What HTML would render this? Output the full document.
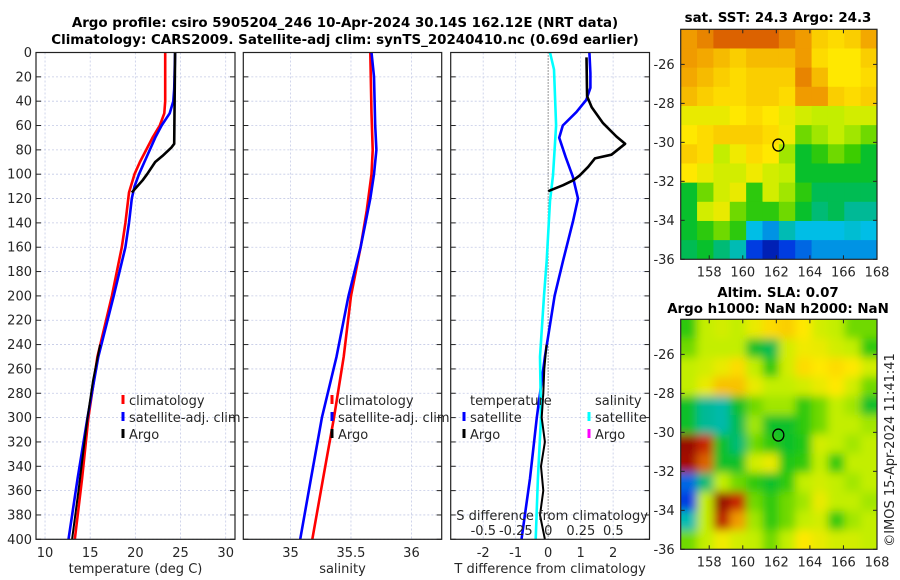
<!DOCTYPE html>
<html><head><meta charset="utf-8">
<style>
html,body{margin:0;padding:0;background:#fff;}
svg{display:block;font-family:"DejaVu Sans","Liberation Sans",sans-serif;}
.tk{font-size:13px;fill:#262626;}
.ttl{font-size:13.4px;font-weight:bold;fill:#000;}
</style></head>
<body>
<svg id="fig" width="900" height="580" viewBox="0 0 900 580">
<defs>
<filter id="blur" x="-10%" y="-10%" width="120%" height="120%"><feGaussianBlur stdDeviation="4.5"/></filter>
<clipPath id="clipSLA"><rect x="680.7" y="319.3" width="196.3" height="230"/></clipPath>
<clipPath id="clipSST"><rect x="680.7" y="29.3" width="196.3" height="230"/></clipPath>
</defs>
<text class="ttl" x="345" y="27" text-anchor="middle">Argo profile: csiro 5905204_246 10-Apr-2024 30.14S 162.12E (NRT data)</text>
<text class="ttl" x="345" y="44" text-anchor="middle">Climatology: CARS2009. Satellite-adj clim: synTS_20240410.nc (0.69d earlier)</text>
<text class="ttl" x="778" y="22" text-anchor="middle">sat. SST: 24.3 Argo: 24.3</text>
<text class="ttl" x="778" y="297" text-anchor="middle">Altim. SLA: 0.07</text>
<text class="ttl" x="778" y="313" text-anchor="middle">Argo h1000: NaN h2000: NaN</text>
<text class="tk" transform="translate(894,450) rotate(-90)" text-anchor="middle">©IMOS 15-Apr-2024 11:41:41</text>
<g id="plots"></g>
</svg>
<script>
// ---------- data ----------
const depthTicks=[0,20,40,60,80,100,120,140,160,180,200,220,240,260,280,300,320,340,360,380,400];
const tempTicks=[10,15,20,25,30];
const salTicks=[35,35.5,36];
const salTickLabels=["35","35.5","36"];
const dTTicks=[-2,-1,0,1,2];
const dSTickLabels=["-0.5","-0.25","0","0.25","0.5"];
const dSTicks=[-0.5,-0.25,0,0.25,0.5];

const tClimDepth=[0,40,50,60,70,80,90,100,115,140,160,200,250,300,350,400];
const tClimVal=[23.3,23.3,23.2,22.7,21.9,21.2,20.5,19.9,19.3,18.9,18.5,17.4,15.8,14.8,14.1,13.3];
const tSatDepth=[0,30,40,50,60,70,80,90,100,110,120,140,160,200,250,300,350,400];
const tSatVal=[24.4,24.3,24.2,23.8,22.9,22.2,21.6,21.0,20.4,19.9,19.6,19.3,18.9,17.6,15.9,14.7,13.6,12.6];
const tArgoDepth=[0,75,78,85,90,100,105,115];
const tArgoVal=[24.4,24.3,24.0,23.0,22.2,21.3,20.8,19.6];
const tArgoDepth2=[240,270,300,330,360,400];
const tArgoVal2=[16.1,15.3,14.7,14.2,13.7,13.0];

const sClimDepth=[0,50,80,100,130,160,200,250,300,350,400];
const sClimVal=[35.66,35.67,35.68,35.67,35.63,35.58,35.5,35.44,35.36,35.27,35.18];
const sSatDepth=[0,20,60,80,100,120,140,160,200,250,300,350,400];
const sSatVal=[35.67,35.69,35.7,35.71,35.69,35.66,35.62,35.58,35.48,35.38,35.26,35.17,35.08];

const dTSatDepth=[0,17,29,39,49,60,70,86,102,120,138,154,171,200,250,300,350,400];
const dTSatVal=[1.27,1.30,1.30,1.17,0.87,0.45,0.34,0.54,0.76,0.92,0.77,0.62,0.46,0.2,-0.1,-0.35,-0.56,-0.82];
const dTArgoDepth=[4,36,45,58,69,75,84,87,94,101,105,109,114];
const dTArgoVal=[1.18,1.20,1.34,1.69,2.10,2.37,1.95,1.44,1.23,0.97,0.77,0.46,0.0];
const dTArgoDepth2=[240,260,280,300,320,340,360,380,400];
const dTArgoVal2=[-0.05,-0.12,-0.15,-0.2,-0.1,-0.22,-0.15,-0.25,-0.1];
const dSSatDepth=[0,14,60,101,122,171,200,250,300,350,400];
const dSSatVal=[0.013,0.044,0.06,0.036,0.013,-0.012,-0.033,-0.064,-0.056,-0.08,-0.097];

const lonTicks=[158,160,162,164,166,168];
const latTicks=[-26,-28,-30,-32,-34,-36];
const argoLon=162.12, argoLat=-30.14;
const sstGrid=[
[0.8,0.82,0.85,0.85,0.85,0.85,0.82,0.8,0.72,0.7,0.72,0.78],
[0.8,0.78,0.75,0.72,0.75,0.75,0.75,0.8,0.7,0.68,0.68,0.72],
[0.78,0.75,0.72,0.7,0.72,0.72,0.72,0.82,0.75,0.68,0.68,0.7],
[0.75,0.72,0.7,0.7,0.72,0.72,0.7,0.8,0.8,0.72,0.7,0.72],
[0.65,0.65,0.65,0.68,0.7,0.68,0.65,0.62,0.6,0.6,0.62,0.62],
[0.68,0.7,0.72,0.72,0.72,0.7,0.66,0.55,0.58,0.6,0.58,0.55],
[0.72,0.7,0.6,0.66,0.7,0.68,0.58,0.45,0.5,0.55,0.52,0.45],
[0.68,0.65,0.62,0.62,0.66,0.62,0.6,0.45,0.45,0.45,0.45,0.45],
[0.45,0.55,0.62,0.65,0.5,0.62,0.58,0.5,0.42,0.42,0.42,0.42],
[0.45,0.62,0.65,0.55,0.5,0.5,0.55,0.45,0.4,0.42,0.38,0.38],
[0.45,0.5,0.55,0.5,0.3,0.25,0.35,0.3,0.3,0.3,0.32,0.3],
[0.42,0.45,0.4,0.35,0.15,0.08,0.15,0.2,0.25,0.25,0.25,0.25]];
const slaGrid=[
[0.5,0.6,0.62,0.6,0.65,0.7,0.72,0.68,0.62,0.6,0.55,0.55],
[0.55,0.6,0.6,0.6,0.45,0.42,0.62,0.66,0.65,0.62,0.6,0.5],
[0.6,0.62,0.65,0.7,0.6,0.5,0.62,0.7,0.68,0.7,0.68,0.62],
[0.6,0.65,0.74,0.74,0.65,0.6,0.6,0.62,0.65,0.68,0.62,0.55],
[0.45,0.38,0.36,0.45,0.55,0.58,0.58,0.5,0.55,0.6,0.58,0.45],
[0.45,0.38,0.36,0.42,0.58,0.45,0.45,0.5,0.55,0.6,0.6,0.58],
[0.98,0.9,0.45,0.4,0.55,0.5,0.45,0.48,0.62,0.6,0.58,0.6],
[0.96,0.85,0.45,0.45,0.62,0.65,0.48,0.5,0.6,0.5,0.6,0.6],
[0.2,0.4,0.6,0.55,0.5,0.45,0.5,0.6,0.62,0.6,0.58,0.6],
[0.15,0.6,0.98,0.9,0.55,0.5,0.55,0.58,0.65,0.6,0.6,0.58],
[0.35,0.6,0.92,0.8,0.58,0.5,0.55,0.6,0.62,0.5,0.58,0.6],
[0.55,0.6,0.66,0.62,0.6,0.55,0.6,0.68,0.65,0.62,0.62,0.6]];

// ---------- helpers ----------
const NS="http://www.w3.org/2000/svg";
const root=document.getElementById('plots');
function mk(tag,attrs,parent){const e=document.createElementNS(NS,tag);for(const k in attrs)e.setAttribute(k,attrs[k]);(parent||root).appendChild(e);return e;}
const Y0=52.5,Y1=539.3;
const yD=d=>Y0+(d/400)*(Y1-Y0);
const panels=[
 {name:'temperature',x0:36,x1:235,v0:9.0,v1:31.03},
 {name:'salinity',x0:243.3,x1:441.7,v0:34.61,v1:36.25},
 {name:'difference',x0:450.7,x1:649.5,v0:-3.0,v1:3.12}];
function sx(p,v){return p.x0+(v-p.v0)/(p.v1-p.v0)*(p.x1-p.x0);}
const sS=s=>548.3+s*130;

function frame(p){
  const g=mk('g',{});
  
  
  depthTicks.forEach(d=>{
    const l=mk('line',{x1:p.x0,x2:p.x1,y1:yD(d),y2:yD(d),stroke:'#c4cae6','stroke-width':0.8,'stroke-dasharray':'2,2'},g);
    
    
    mk('line',{x1:p.x0,x2:p.x0+5,y1:yD(d),y2:yD(d),stroke:'#222'},g);
    mk('line',{x1:p.x1-5,x2:p.x1,y1:yD(d),y2:yD(d),stroke:'#222'},g);
  });
  return g;
}
function vgrid(g,xs){xs.forEach(x=>{
  const l=mk('line',{x1:x,x2:x,y1:Y0,y2:Y1,stroke:'#c4cae6','stroke-width':0.8,'stroke-dasharray':'2,2'},g);
  
  
});}
function box(g,p){const r=mk('rect',{x:p.x0,y:Y0,width:p.x1-p.x0,height:Y1-Y0,fill:'none',stroke:'#222','stroke-width':1.2},g);
  }
function line(g,depths,vals,fx,color,name,w){
  const pts=depths.map((d,i)=>fx(vals[i]).toFixed(1)+','+yD(d).toFixed(1)).join(' ');
  const l=mk('polyline',{points:pts,fill:'none',stroke:color,'stroke-width':w||2.6,'stroke-linejoin':'round'},g);
  
  
}
function text(g,x,y,s,anchor,name,size){const t=mk('text',{x:x,y:y,'text-anchor':anchor||'middle',class:'tk'},g);if(size)t.setAttribute('font-size',size);t.textContent=s;
  return t;}
function legendEntry(g,x,y,color,label,name){
  const r=mk('rect',{x:x-1.5,y:y-10,width:3,height:9,fill:color},g);
  
  const t=text(g,x+6,y,label,'start',name);t.setAttribute('font-size','14');
}

// Panel 1
let p=panels[0],g=frame(p);
vgrid(g,tempTicks.map(v=>sx(p,v)));
line(g,tClimDepth,tClimVal,v=>sx(p,v),'#ff0000','temp-climatology-line');
line(g,tSatDepth,tSatVal,v=>sx(p,v),'#0000ff','temp-satellite-line');
line(g,tArgoDepth,tArgoVal,v=>sx(p,v),'#000','temp-argo-line');
line(g,tArgoDepth2,tArgoVal2,v=>sx(p,v),'#000','temp-argo-line-deep',2);
box(g,p);
depthTicks.forEach(d=>text(g,p.x0-4,yD(d)+4.5,String(d),'end','depth-tick-label'));
tempTicks.forEach(v=>text(g,sx(p,v),557,String(v),'middle','temp-tick-label'));
text(g,(p.x0+p.x1)/2,573,'temperature (deg C)','middle','temp-x-axis-title');
legendEntry(g,123,405,'#ff0000','climatology','legend-climatology');
legendEntry(g,123,422,'#0000ff','satellite-adj. clim','legend-satellite');
legendEntry(g,123,439,'#000','Argo','legend-argo');

// Panel 2
p=panels[1];g=frame(p);
vgrid(g,salTicks.map(v=>sx(p,v)));
line(g,sClimDepth,sClimVal,v=>sx(p,v),'#ff0000','sal-climatology-line');
line(g,sSatDepth,sSatVal,v=>sx(p,v),'#0000ff','sal-satellite-line');
box(g,p);
salTicks.forEach((v,i)=>text(g,sx(p,v),557,salTickLabels[i],'middle','sal-tick-label'));
text(g,(p.x0+p.x1)/2,573,'salinity','middle','sal-x-axis-title');
legendEntry(g,332,405,'#ff0000','climatology','legend-climatology');
legendEntry(g,332,422,'#0000ff','satellite-adj. clim','legend-satellite');
legendEntry(g,332,439,'#000','Argo','legend-argo');

// Panel 3
p=panels[2];g=frame(p);
vgrid(g,dTTicks.filter(v=>v!==0).map(v=>sx(p,v)));
const z=mk('line',{x1:sx(p,0),x2:sx(p,0),y1:Y0,y2:Y1,stroke:'#333','stroke-width':1,'stroke-dasharray':'1,2'},g);

line(g,dTSatDepth,dTSatVal,v=>sx(p,v),'#0000ff','dT-satellite-line');
line(g,dSSatDepth,dSSatVal,sS,'#00ffff','dS-satellite-line');
line(g,dTArgoDepth,dTArgoVal,v=>sx(p,v),'#000','dT-argo-line');
line(g,dTArgoDepth2,dTArgoVal2,v=>sx(p,v),'#000','dT-argo-line-deep',2);
box(g,p);
dTTicks.forEach(v=>text(g,sx(p,v),557,String(v),'middle','dT-tick-label'));
text(g,(p.x0+p.x1)/2,573,'T difference from climatology','middle','dT-x-axis-title');
let t=text(g,(p.x0+p.x1)/2+2,520,'S difference from climatology','middle','dS-axis-title');t.setAttribute('font-size','14');
dSTicks.forEach((v,i)=>{const tt=text(g,sS(v),535,dSTickLabels[i],'middle','dS-tick-label');tt.setAttribute('font-size','14');});
t=text(g,470,405,'temperature','start','legend-temperature-header');t.setAttribute('font-size','14');
t=text(g,595,405,'salinity','start','legend-salinity-header');t.setAttribute('font-size','14');
legendEntry(g,464,422,'#0000ff','satellite','legend-dT-satellite');
legendEntry(g,464,439,'#000','Argo','legend-dT-argo');
legendEntry(g,589,422,'#00ffff','satellite','legend-dS-satellite');
legendEntry(g,589,439,'#ff00ff','Argo','legend-dS-argo');

// ---------- maps ----------
const stops=[[0,[0,0,130]],[0.15,[0,60,225]],[0.3,[0,190,230]],[0.38,[0,185,150]],[0.44,[0,190,50]],[0.52,[60,205,0]],[0.6,[195,238,0]],[0.68,[255,232,0]],[0.8,[240,155,0]],[0.9,[200,40,0]],[1,[140,0,0]]];
function cmap(v){for(let i=1;i<stops.length;i++){if(v<=stops[i][0]){const a=stops[i-1],b=stops[i],f=(v-a[0])/(b[0]-a[0]);
  const c=a[1].map((x,k)=>Math.round(x+(b[1][k]-x)*f));return 'rgb('+c.join(',')+')';}}return 'rgb(140,0,0)';}
const MX0=680.7,MX1=877,LON0=156.3,LON1=168.0;
const mxs=lon=>MX0+(lon-LON0)/(LON1-LON0)*(MX1-MX0);
function mapPanel(top,grid,name,blur){
  const LAT0=-24.2,LAT1=-36.0,bot=top+230;
  const my=lat=>top+(lat-LAT0)/(LAT1-LAT0)*(bot-top);
  const g=mk('g',{});
  
  const cg=mk('g',{'clip-path':'url(#'+(blur?'clipSLA':'clipSST')+')'},g);
  const hg=mk('g',blur?{filter:'url(#blur)'}:{},cg);
  const nr=grid.length,nc=grid[0].length,cw=(MX1-MX0)/nc,ch=(bot-top)/nr;
  const pad=blur?20:0;
  grid.forEach((row,r)=>row.forEach((v,c)=>{
    let x=MX0+c*cw,y=top+r*ch,w=cw+0.6,h=ch+0.6;
    if(c===0){x-=pad;w+=pad;} if(c===nc-1){w+=pad;}
    if(r===0){y-=pad;h+=pad;} if(r===nr-1){h+=pad;}
    const rc=mk('rect',{x:x.toFixed(2),y:y.toFixed(2),width:w.toFixed(2),height:h.toFixed(2),fill:cmap(v)},hg);
    
  }));
  const fr=mk('rect',{x:MX0,y:top,width:MX1-MX0,height:230,fill:'none',stroke:'#222','stroke-width':1.2},g);
  
  latTicks.forEach(l=>{const y=my(l);
    mk('line',{x1:MX0,x2:MX0+4,y1:y,y2:y,stroke:'#222'},g);mk('line',{x1:MX1-4,x2:MX1,y1:y,y2:y,stroke:'#222'},g);
    text(g,MX0-6,y+4.5,String(l),'end','lat-tick-label');});
  lonTicks.forEach(l=>{const x=mxs(l);
    mk('line',{x1:x,x2:x,y1:bot-4,y2:bot,stroke:'#222'},g);mk('line',{x1:x,x2:x,y1:top,y2:top+4,stroke:'#222'},g);
    text(g,x,bot+17,String(l),'middle','lon-tick-label');});
  const c=mk('ellipse',{cx:mxs(argoLon),cy:my(argoLat),rx:5.5,ry:6,fill:'none',stroke:'#000','stroke-width':1.3},g);
  
}
mapPanel(29.3,sstGrid,'sst-map',false);
mapPanel(319.3,slaGrid,'sla-map',true);
</script>
</body></html>
